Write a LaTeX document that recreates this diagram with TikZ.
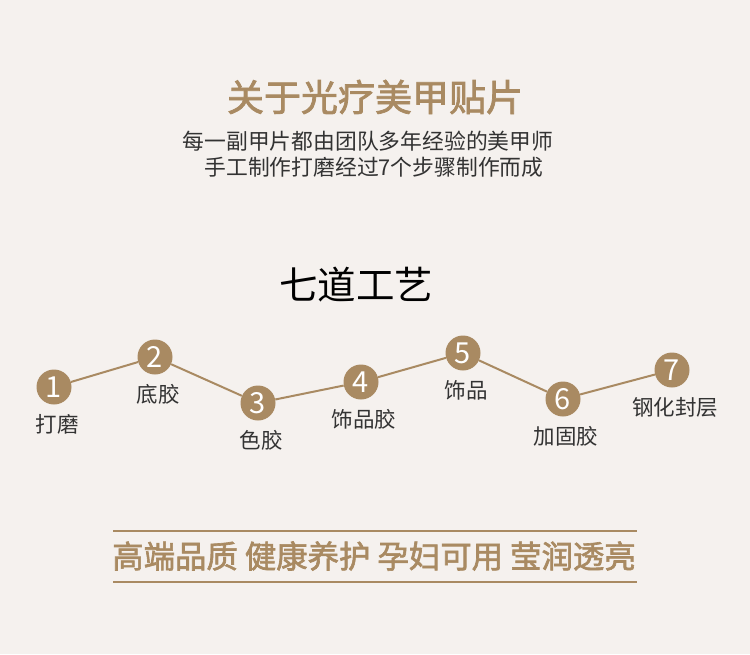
\documentclass[tikz,border=0pt]{standalone}
\usepackage{fontspec}
\setmainfont{Noto Sans CJK SC}
\newfontfamily\medfont{Noto Sans CJK SC}[FakeBold=2]
\definecolor{gold}{HTML}{A98A62}
\definecolor{paper}{HTML}{F5F1EE}
\definecolor{ink}{HTML}{333333}
\tikzset{
    stepdot/.style={circle, fill=gold, minimum size=35pt, inner sep=0pt, text=white, font=\fontsize{29}{32}\selectfont},
    steptext/.style={text=ink, font=\fontsize{21.5}{26}\selectfont},
    link/.style={gold, line width=2pt},
    rule/.style={gold, line width=2pt}
}
\begin{document}
\begin{tikzpicture}[x=1pt,y=-1pt]
        % page
            \fill[paper] (0,0) rectangle (750,654);
            \useasboundingbox (0,0) rectangle (750,654);
        % heading
            \node[text=gold, font=\fontsize{37}{44}\selectfont\medfont] (title) at (375,97) {关于光疗美甲贴片};
            \node[text=ink, font=\fontsize{21.8}{26}\selectfont] (sub1) at (368,141) {每一副甲片都由团队多年经验的美甲师};
            \node[text=ink, font=\fontsize{21.8}{26}\selectfont] (sub2) at (374,167) {手工制作打磨经过7个步骤制作而成};
            \node[text=black, font=\fontsize{38.5}{44}\selectfont] (craft) at (356,285) {七道工艺};
        % steps
            \foreach \n/\x/\y/\t in {1/54/387/打磨,2/155/357/底胶,3/258/403/色胶,4/361/382/饰品胶,5/463/353/饰品,6/563/399/加固胶,7/672/370/钢化封层}{
                \node[stepdot] (c\n) at (\x,\y) {\n};
                \node[steptext] (t\n) at (\x+3,\y+37) {\t};
            }
            \foreach \a/\b in {1/2,2/3,3/4,4/5,5/6,6/7}{
                \draw[link] (c\a) -- (c\b);
            }
        % footer
            \node[text=gold, font=\fontsize{31.4}{38}\selectfont\medfont] (motto) at (374,556) {高端品质 健康养护 孕妇可用 莹润透亮};
            \draw[rule] (113,531) -- (637,531);
            \draw[rule] (113,582) -- (637,582);
\end{tikzpicture}
\end{document}
